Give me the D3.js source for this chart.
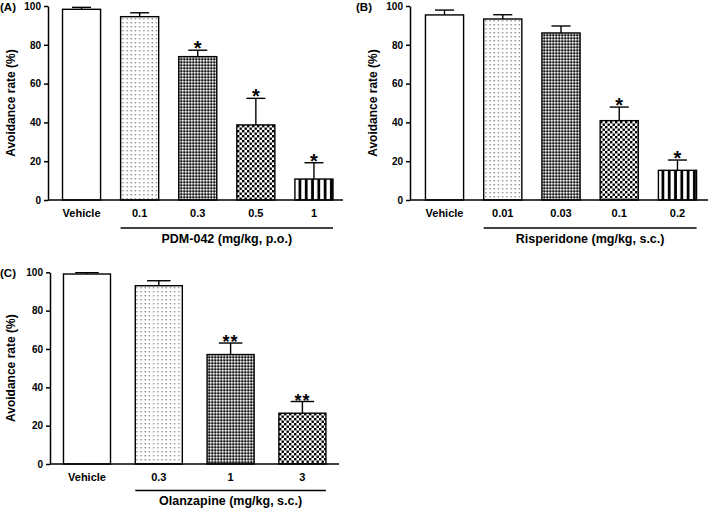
<!DOCTYPE html>
<html><head><meta charset="utf-8">
<script src="https://cdn.jsdelivr.net/npm/d3@7"></script>
<style>
body{margin:0;background:#fff}
svg{display:block}
text{font-family:"Liberation Sans",Arial,Helvetica,sans-serif;font-weight:bold;fill:#000}
</style>
</head><body>
<svg id="chart" width="709" height="510"></svg>
<script>
// ---- data ----
const yTicks = [0, 20, 40, 60, 80, 100];

const catsA = ["Vehicle", "0.1", "0.3", "0.5", "1"];
const meanA = [98.3, 94.5, 73.9, 38.7, 10.8];
const errA  = [1.0, 2.0, 3.3, 13.7, 8.4];
const sigA  = ["", "", "*", "*", "*"];
const titleA = "PDM-042 (mg/kg, p.o.)";

const catsB = ["Vehicle", "0.01", "0.03", "0.1", "0.2"];
const meanB = [95.4, 93.3, 86.1, 40.9, 15.3];
const errB  = [2.5, 2.2, 3.6, 7.0, 5.3];
const sigB  = ["", "", "", "*", "*"];
const titleB = "Risperidone (mg/kg, s.c.)";

const catsC = ["Vehicle", "0.3", "1", "3"];
const meanC = [99.1, 93.0, 57.1, 26.5];
const errC  = [0.7, 2.6, 6.0, 6.1];
const sigC  = ["", "", "**", "**"];
const titleC = "Olanzapine (mg/kg, s.c.)";

const yTitle = "Avoidance rate (%)";

// ---- drawing ----
const svg = d3.select("#chart");
const defs = svg.append("defs");
const fills = ["white", "dots", "fine", "check", "stripes"];
let pid = 0;

function makePattern(kind, x0, y0) {
  if (kind === "white") return "#fff";
  const id = "p" + (pid++);
  let p;
  if (kind === "dots") {
    p = defs.append("pattern").attr("id", id).attr("patternUnits", "userSpaceOnUse")
      .attr("x", x0).attr("y", y0).attr("width", 4.2).attr("height", 4);
    p.append("rect").attr("width", 4.2).attr("height", 4).attr("fill", "#fff");
    p.append("rect").attr("x", 1.2).attr("y", 1).attr("width", 1.4).attr("height", 1.4).attr("fill", "#8c8c8c");
  } else if (kind === "fine") {
    p = defs.append("pattern").attr("id", id).attr("patternUnits", "userSpaceOnUse")
      .attr("x", x0).attr("y", y0).attr("width", 3).attr("height", 3);
    p.append("rect").attr("width", 3).attr("height", 3).attr("fill", "#7a7a7a");
    p.append("rect").attr("x", 0).attr("y", 0).attr("width", 1.5).attr("height", 1.5).attr("fill", "#f2f2f2");
    p.append("rect").attr("x", 1.5).attr("y", 1.5).attr("width", 1.5).attr("height", 1.5).attr("fill", "#1a1a1a");
  } else if (kind === "check") {
    p = defs.append("pattern").attr("id", id).attr("patternUnits", "userSpaceOnUse")
      .attr("x", x0).attr("y", y0).attr("width", 5).attr("height", 5);
    p.append("rect").attr("width", 5).attr("height", 5).attr("fill", "#fff");
    p.append("rect").attr("x", 0).attr("y", 0).attr("width", 2.4).attr("height", 2.4).attr("fill", "#000");
    p.append("rect").attr("x", 2.5).attr("y", 2.5).attr("width", 2.4).attr("height", 2.4).attr("fill", "#000");
  } else if (kind === "stripes") {
    p = defs.append("pattern").attr("id", id).attr("patternUnits", "userSpaceOnUse")
      .attr("x", x0).attr("y", y0).attr("width", 6.3).attr("height", 10);
    p.append("rect").attr("width", 6.3).attr("height", 10).attr("fill", "#fff");
    p.append("rect").attr("x", 3.5).attr("y", 0).attr("width", 2.8).attr("height", 10).attr("fill", "#000");
  }
  return "url(#" + id + ")";
}

function panel(o) {
  const g = svg.append("g");
  const y = d3.scaleLinear().domain([0, 100]).range([o.y0, o.y100]);
  const x = d3.scaleBand().domain(o.cats).range(o.xr).paddingInner(0.345).paddingOuter(0.1725);
  const bw = x.bandwidth();

  // y axis
  const ax = g.append("g").attr("transform", `translate(${o.axisX},0)`)
    .call(d3.axisLeft(y).tickValues(yTicks).tickSize(4).tickSizeOuter(0).tickPadding(3));
  ax.select(".domain").attr("stroke", "#000").attr("stroke-width", 1.5);
  ax.selectAll(".tick line").attr("stroke", "#000").attr("stroke-width", 1.5);
  ax.selectAll(".tick text").style("font-size", "10px").style("font-family", '"Liberation Sans",Arial,sans-serif').style("font-weight", "bold");

  // bars
  o.cats.forEach((c, i) => {
    const bx = x(c);
    const top = y(o.mean[i]);
    g.append("rect").attr("x", bx).attr("y", top).attr("width", bw).attr("height", o.y0 - top)
      .attr("fill", makePattern(fills[i], Math.round(bx), Math.round(top))).attr("stroke", "#000").attr("stroke-width", 1.4);
    const cx = bx + bw / 2;
    const et = y(o.mean[i] + o.err[i]);
    g.append("line").attr("x1", cx).attr("x2", cx).attr("y1", top).attr("y2", et)
      .attr("stroke", "#000").attr("stroke-width", 1.4);
    g.append("line").attr("x1", cx - bw / 4).attr("x2", cx + bw / 4).attr("y1", et).attr("y2", et)
      .attr("stroke", "#000").attr("stroke-width", 1.4);
    if (o.sig[i]) {
      g.append("text").attr("x", cx).attr("y", et + o.starDy).attr("text-anchor", "middle")
        .style("font-size", o.starSize + "px").style("letter-spacing", o.starLs + "px").text(o.sig[i]);
    }
    g.append("text").attr("x", cx).attr("y", o.y0 + 17).attr("text-anchor", "middle")
      .style("font-size", "11px").text(c);
  });

  // x axis line
  g.append("line").attr("x1", o.axisX).attr("x2", o.axisEnd).attr("y1", o.y0).attr("y2", o.y0)
    .attr("stroke", "#000").attr("stroke-width", 1.5);

  // dose group underline + title
  const lx1 = x(o.cats[1]), lx2 = x(o.cats[o.cats.length - 1]) + bw;
  g.append("line").attr("x1", lx1).attr("x2", lx2).attr("y1", o.lineY).attr("y2", o.lineY)
    .attr("stroke", "#000").attr("stroke-width", 1.4);
  g.append("text").attr("x", (lx1 + lx2) / 2).attr("y", o.titleY).attr("text-anchor", "middle")
    .style("font-size", "12.5px").text(o.title);

  // y title
  g.append("text").attr("transform", `translate(${o.yTitleX},${(o.y0 + o.y100) / 2}) rotate(-90)`)
    .attr("text-anchor", "middle").style("font-size", "12px").text(yTitle);

  // panel label
  g.append("text").attr("x", o.labX).attr("y", o.labY).style("font-size", "11.5px").text(o.label);
}

panel({cats: catsA, mean: meanA, err: errA, sig: sigA, title: titleA, label: "(A)",
  y0: 200, y100: 6, xr: [52.5, 343], axisX: 48, axisEnd: 343, lineY: 228, titleY: 242.5,
  yTitleX: 15, labX: 0, labY: 11, starDy: 5, starSize: 20, starLs: 0});
panel({cats: catsB, mean: meanB, err: errB, sig: sigB, title: titleB, label: "(B)",
  y0: 200, y100: 6, xr: [415.4, 706.6], axisX: 410, axisEnd: 708, lineY: 228, titleY: 242.5,
  yTitleX: 377, labX: 356, labY: 11, starDy: 5, starSize: 20, starLs: 0});
panel({cats: catsC, mean: meanC, err: errC, sig: sigC, title: titleC, label: "(C)",
  y0: 464, y100: 272.3, xr: [51.1, 338.3], axisX: 50, axisEnd: 339, lineY: 490.5, titleY: 505,
  yTitleX: 15, labX: 0, labY: 277, starDy: 5, starSize: 18, starLs: 1});
</script>
</body></html>
